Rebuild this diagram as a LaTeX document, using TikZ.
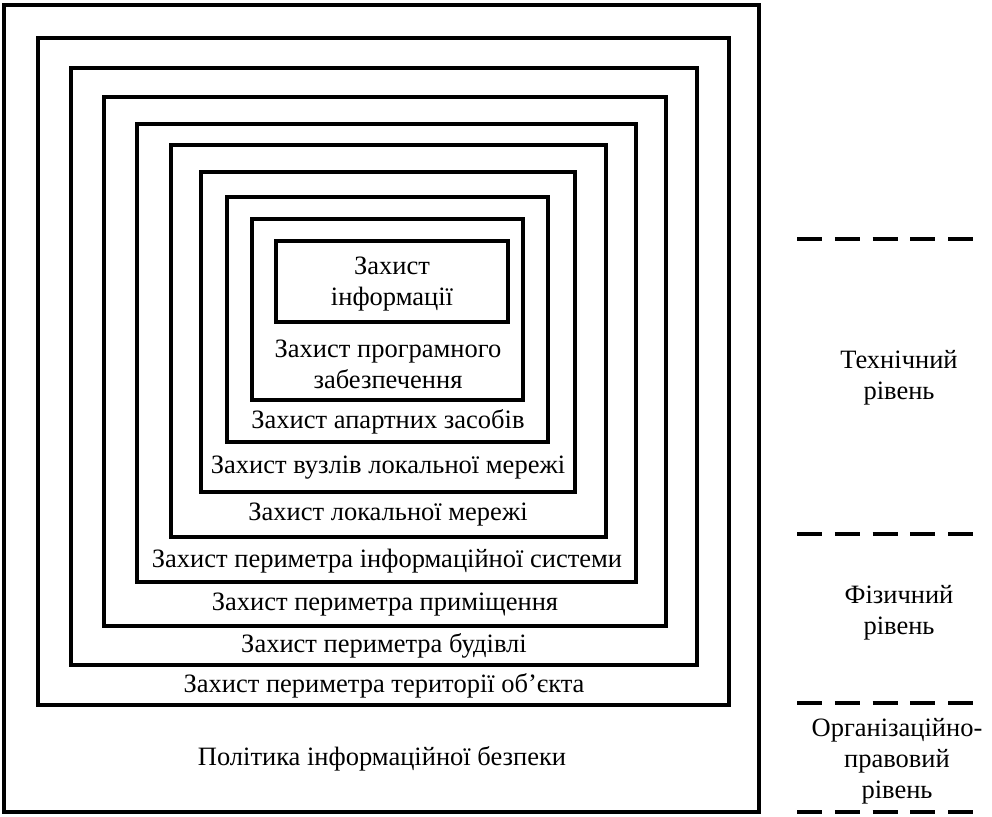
\documentclass[tikz,border=0pt]{standalone}
\usepackage{fontspec}
\setmainfont{Liberation Serif}
\usepackage{tikz}
\usetikzlibrary{positioning}

\begin{document}
\begin{tikzpicture}[
    x=1pt, y=-1pt,
    frame/.style={draw, line width=3.2pt},
    lbl/.style={align=center, inner sep=0pt, font=\fontsize{26.5}{31}\selectfont},
    level line/.style={line width=3.4pt, dash pattern=on 25pt off 12.75pt}
]
    \useasboundingbox (0,0) rectangle (992,816);

    % вкладені рамки
    \draw[frame] (4,5) rectangle (759,812);
    \draw[frame] (38,38) rectangle (729,705);
    \draw[frame] (71,68) rectangle (697,665);
    \draw[frame] (104,97) rectangle (666,626);
    \draw[frame] (137,124) rectangle (636,582);
    \draw[frame] (171,145) rectangle (606,537);
    \draw[frame] (201,172) rectangle (575,492);
    \draw[frame] (227,197) rectangle (548,442);
    \draw[frame] (252,219) rectangle (523,400);
    \draw[frame] (276,241) rectangle (508,322);

    % написи
    \node[lbl] (info) at (392,284) {Захист\\інформації};
    \node[lbl] (soft) at (388,364) {Захист програмного\\забезпечення};
    \node[lbl] (hard) at (388,422) {Захист апартних засобів};
    \node[lbl] (nodes) at (388,468) {Захист вузлів локальної мережі};
    \node[lbl] (lan) at (388,515) {Захист локальної мережі};
    \node[lbl] (system) at (387,561) {Захист периметра інформаційної системи};
    \node[lbl] (room) at (385,605) {Захист периметра приміщення};
    \node[lbl] (building) at (384,646) {Захист периметра будівлі};
    \node[lbl] (site) at (384,686) {Захист периметра території об’єкта};
    \node[lbl] (policy) at (382,759) {Політика інформаційної безпеки};

    % рівні
    \coordinate (l1a) at (797,239);
    \coordinate (l1b) at (973,239);
    \coordinate (l2a) at (797,534);
    \coordinate (l2b) at (973,534);
    \coordinate (l3a) at (797,703);
    \coordinate (l3b) at (973,703);
    \coordinate (l4a) at (797,812);
    \coordinate (l4b) at (973,812);
    \draw[level line] (l1a) -- (l1b);
    \draw[level line] (l2a) -- (l2b);
    \draw[level line] (l3a) -- (l3b);
    \draw[level line] (l4a) -- (l4b);

    \node[lbl] (tech) at (899,378) {Технічний\\рівень};
    \node[lbl] (phys) at (899,613) {Фізичний\\рівень};
    \node[lbl] (org) at (897,761) {Організаційно-\\правовий\\рівень};
\end{tikzpicture}
\end{document}
